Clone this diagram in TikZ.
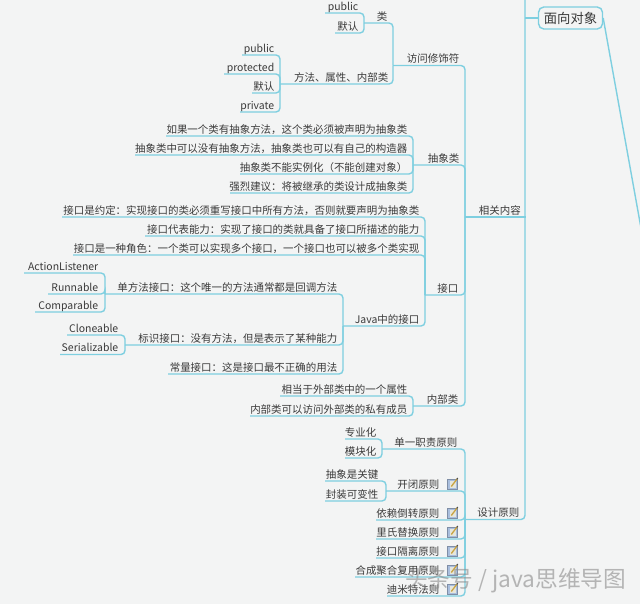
\documentclass[tikz,border=0pt]{standalone}
\usepackage{fontspec}
\setmainfont{Noto Sans CJK SC}
\definecolor{bgc}{HTML}{F3F4F4}
\definecolor{lnk}{HTML}{7ECFE0}
\definecolor{txt}{HTML}{3A3A3A}
\definecolor{wm}{HTML}{8A8A8A}
\definecolor{iconbg}{HTML}{A9BEDD}
\definecolor{iconpg}{HTML}{E6E6DC}
\definecolor{iconpen}{HTML}{C9A443}
\tikzset{
  px/.style={x=0.75pt,y=-0.75pt},
  tp/.style={inner sep=0pt,anchor=south west,text=txt,font=\fontsize{7.85pt}{9pt}\selectfont},
  lnkline/.style={draw=lnk,line width=1.05pt,rounded corners=3pt},
  rootbox/.style={draw=lnk,line width=1.05pt,rounded corners=4pt,fill=bgc,text=txt,inner sep=0pt,minimum width=48pt,minimum height=16.5pt,font=\fontsize{10pt}{12pt}\selectfont}
}
% name, x left, x right, y of underline, right padding, text
\newcommand{\tpc}[6]{%
  \pgfmathsetlengthmacro{\tpw}{(#3-#2)*0.75pt}%
  \pgfmathsetlengthmacro{\tpp}{#5*0.75pt}%
  \node[tp] (#1) at (#2,#4) {\makebox[\tpw][r]{\rule[-1.9pt]{0pt}{10pt}#6\hspace{\tpp}}};%
}
\newcommand{\noteicon}[2]{%
  \begin{scope}[shift={(#1,#2)}]
    \fill[draw=iconbg!75!black,fill=iconbg,line width=.35pt] (0,2) rectangle (10,12);
    \fill[iconpg] (2.2,4) rectangle (8,10.5);
    \draw[iconpen,line width=1pt] (3.8,9.5)--(9.5,2);
    \draw[black!70,line width=.8pt] (9.2,2.4)--(10.2,1);
  \end{scope}%
}
\begin{document}
\begin{tikzpicture}[px]
\useasboundingbox (0,0) rectangle (640,604);
\fill[bgc] (0,0) rectangle (640,604);
\coordinate (trunktop) at (525,-2);
\coordinate (rootjoin) at (525,18);
\coordinate (offpage) at (641,228);
\node[rootbox] (root) at (570.5,18) {面向对象};
% level 1
\tpc{xgnr}{465}{525}{217}{4.5}{相关内容}
\tpc{sjyz}{465}{525}{519.5}{6}{设计原则}
% level 2
\tpc{fwxs}{393}{465}{65.5}{6}{访问修饰符}
\tpc{cxl}{413}{465}{165}{6}{抽象类}
\tpc{jk}{425}{465}{295}{7}{接口}
\tpc{nbl}{413}{465}{406}{7}{内部类}
% access modifiers
\tpc{lei}{364}{393}{23}{6}{类}
\tpc{ffsx}{280}{393}{84}{5}{方法、属性、内部类}
\tpc{pub}{325}{364}{13}{6}{public}
\tpc{mr}{335}{364}{33}{6}{默认}
\tpc{pub2}{242}{280}{55}{6}{public}
\tpc{prot}{224}{280}{74}{6}{protected}
\tpc{mr2}{252}{280}{93}{6}{默认}
\tpc{priv}{240}{280}{112}{6}{private}
% abstract
\tpc{ca}{166}{413}{136}{6}{如果一个类有抽象方法，这个类必须被声明为抽象类}
\tpc{cb}{135}{413}{155}{6}{抽象类中可以没有抽象方法，抽象类也可以有自己的构造器}
\tpc{cc}{240}{413}{174}{6}{抽象类不能实例化（不能创建对象）}
\tpc{cd}{230}{413}{193}{6}{强烈建议：将被继承的类设计成抽象类}
% interface
\tpc{ja}{62}{425}{217}{6}{接口是约定：实现接口的类必须重写接口中所有方法，否则就要声明为抽象类}
\tpc{jb}{145}{425}{236}{6}{接口代表能力：实现了接口的类就具备了接口所描述的能力}
\tpc{jc}{73}{425}{255}{6}{接口是一种角色：一个类可以实现多个接口，一个接口也可以被多个类实现}
\tpc{jd}{343}{425}{326}{6}{Java中的接口}
\tpc{ka}{105}{343}{294}{6}{单方法接口：这个唯一的方法通常都是回调方法}
\tpc{kb}{125}{343}{345}{6}{标识接口：没有方法，但是表示了某种能力}
\tpc{kc}{168}{343}{374}{6}{常量接口：这是接口最不正确的用法}
\tpc{la}{24}{105}{273}{7}{ActionListener}
\tpc{lb}{48}{105}{294}{7}{Runnable}
\tpc{lc}{35}{105}{312}{7}{Comparable}
\tpc{ma}{67}{125}{335}{7}{Cloneable}
\tpc{mb}{60}{125}{354.5}{7}{Serializable}
% inner
\tpc{na}{280}{413}{396}{6}{相当于外部类中的一个属性}
\tpc{nb}{250}{413}{416}{6}{内部类可以访问外部类的私有成员}
% design
\tpc{sa}{382}{465}{449}{8}{单一职责原则}
\tpc{sb}{386}{465}{491}{26}{开闭原则}
\tpc{sc}{376}{465}{520}{26}{依赖倒转原则}
\tpc{sd}{376}{465}{539}{26}{里氏替换原则}
\tpc{se}{376}{465}{558}{26}{接口隔离原则}
\tpc{sf}{355}{465}{577}{26}{合成聚合复用原则}
\tpc{sg}{387}{465}{596}{26}{迪米特法则}
\tpc{ta}{345}{383}{439}{7}{专业化}
\tpc{tb}{345}{383}{458}{7}{模块化}
\tpc{ua}{325}{385}{481}{7}{抽象是关键}
\tpc{ub}{325}{385}{501}{7}{封装可变性}
% connectors
\draw[lnkline] (trunktop) |- (sjyz.south west);
\draw[lnkline] (xgnr.south west) -- (xgnr.south east);
\draw[lnkline] (root.west) -- (rootjoin);
\draw[lnkline,rounded corners=0pt] (root.east) -- (offpage);
\foreach \c/\p in {fwxs/xgnr,cxl/xgnr,jk/xgnr,nbl/xgnr,
  sa/sjyz,sb/sjyz,sc/sjyz,sd/sjyz,se/sjyz,sf/sjyz,sg/sjyz,
  lei/fwxs,ffsx/fwxs,pub/lei,mr/lei,pub2/ffsx,prot/ffsx,mr2/ffsx,priv/ffsx,
  ca/cxl,cb/cxl,cc/cxl,cd/cxl,
  ja/jk,jb/jk,jc/jk,jd/jk,ka/jd,kb/jd,kc/jd,la/ka,lb/ka,lc/ka,ma/kb,mb/kb,
  na/nbl,nb/nbl,ta/sa,tb/sa,ua/sb,ub/sb}
  {\draw[lnkline] (\c.south west) -| (\p.south west);}
\noteicon{447.5}{477}
\noteicon{447.5}{506}
\noteicon{447.5}{525}
\noteicon{447.5}{544}
\noteicon{447.5}{563}
\noteicon{447.5}{582}
\node[inner sep=0pt,anchor=west,text=wm,font=\fontsize{17pt}{20pt}\selectfont,opacity=.6] (wmk) at (405,581) {头条号 / java思维导图};
\end{tikzpicture}
\end{document}
